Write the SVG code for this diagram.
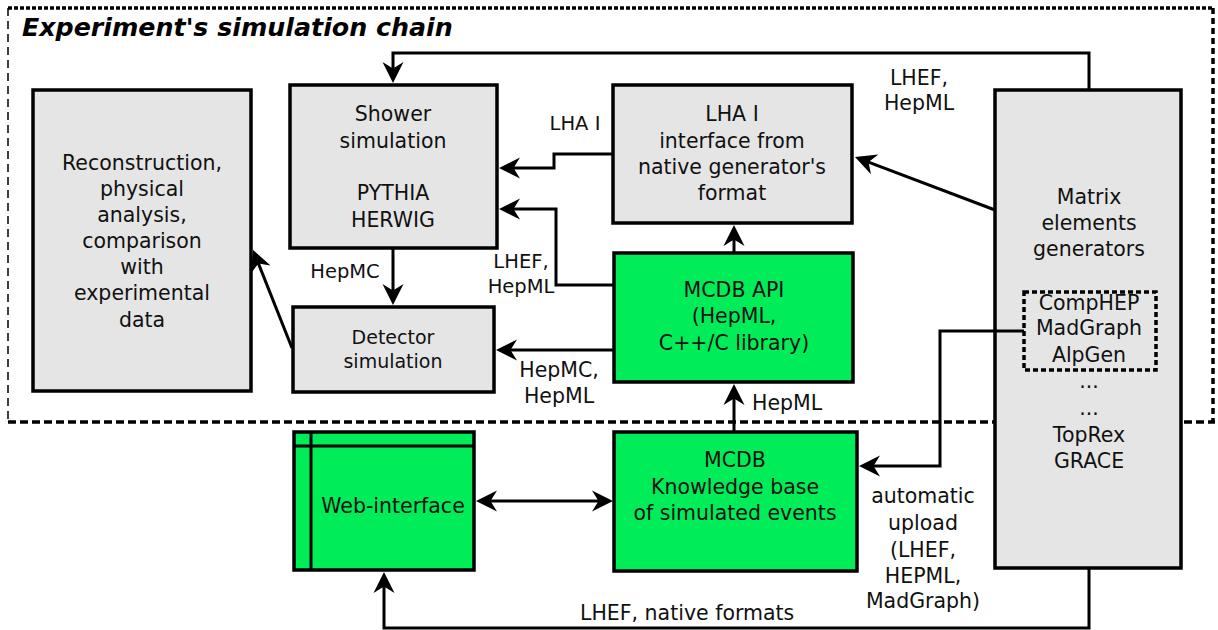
<svg xmlns="http://www.w3.org/2000/svg" width="1218" height="630" viewBox="0 0 1218 630">
<style>
.box{stroke:#000;stroke-width:3.5}
.gray{fill:#e5e5e5}
.green{fill:#00ec58}
.t{font-family:"DejaVu Sans",sans-serif;font-size:20.5px;fill:#111;text-anchor:middle}
.s{font-size:19px}
.lbl{font-family:"DejaVu Sans",sans-serif;font-size:19.5px;fill:#111;text-anchor:middle}
.big{font-size:20.5px}
.st{text-anchor:start}
.c{fill:none;stroke:#000;stroke-width:3}
</style>
<defs>
<marker id="ah" viewBox="-14 -12 24 24" markerWidth="24" markerHeight="24" refX="0" refY="0" orient="auto-start-reverse" markerUnits="userSpaceOnUse">
<path d="M8,0 L-13,-10.5 L-6.5,0 L-13,10.5 Z" fill="#000"/>
</marker>
</defs>
<rect width="1218" height="630" fill="#fff"/>
<g id="frame">
<path d="M8,8 H1213" fill="none" stroke="#000" stroke-width="3.5" stroke-dasharray="4 2"/>
<path d="M1213,8 V422" fill="none" stroke="#000" stroke-width="3.5" stroke-dasharray="6 4"/>
<path d="M8,422 H1215" fill="none" stroke="#000" stroke-width="3.5" stroke-dasharray="8 4"/>
<path d="M8,8 V422" fill="none" stroke="#000" stroke-width="1.5" stroke-dasharray="8 5"/>
<text x="22" y="36" font-family="DejaVu Sans, sans-serif" font-size="25.3" font-weight="bold" font-style="italic" fill="#000">Experiment's simulation chain</text>
</g>
<g id="reconstruction">
<rect class="box gray" x="33" y="90" width="218" height="301"/>
<text class="t" x="142" y="170">Reconstruction,</text>
<text class="t" x="142" y="196">physical</text>
<text class="t" x="142" y="222">analysis,</text>
<text class="t" x="142" y="248">comparison</text>
<text class="t" x="142" y="274">with</text>
<text class="t" x="142" y="300">experimental</text>
<text class="t" x="142" y="327">data</text>
</g>
<g id="shower">
<rect class="box gray" x="290" y="85" width="207" height="163"/>
<text class="t" x="393" y="121">Shower</text>
<text class="t" x="393" y="148">simulation</text>
<text class="t" x="393" y="200">PYTHIA</text>
<text class="t" x="393" y="227">HERWIG</text>
</g>
<g id="detector">
<rect class="box gray" x="293" y="307" width="201" height="85"/>
<text class="t s" x="393" y="344">Detector</text>
<text class="t s" x="393" y="368">simulation</text>
</g>
<g id="lha">
<rect class="box gray" x="613" y="85" width="239" height="138"/>
<text class="t" x="732" y="121">LHA I</text>
<text class="t" x="732" y="148">interface from</text>
<text class="t" x="732" y="174">native generator's</text>
<text class="t" x="732" y="200">format</text>
</g>
<g id="mcdb-api">
<rect class="box green" x="614" y="253" width="239" height="129"/>
<text class="t" x="734" y="297">MCDB API</text>
<text class="t" x="734" y="323">(HepML,</text>
<text class="t" x="734" y="350">C++/C library)</text>
</g>
<g id="mcdb-kb">
<rect class="box green" x="614" y="432" width="243" height="139"/>
<text class="t" x="735" y="467">MCDB</text>
<text class="t" x="735" y="494">Knowledge base</text>
<text class="t" x="735" y="520">of simulated events</text>
</g>
<g id="web">
<rect class="box green" x="294" y="432" width="180" height="138"/>
<path d="M311,432 V570 M294,446 H474" stroke="#000" stroke-width="3" fill="none"/>
<text class="t" x="393" y="513">Web-interface</text>
</g>
<g id="matrix">
<rect class="box gray" x="995" y="90" width="186" height="478"/>
<text class="t" x="1089" y="204">Matrix</text>
<text class="t" x="1089" y="230">elements</text>
<text class="t" x="1089" y="256">generators</text>
<rect x="1024" y="292" width="132" height="78" fill="none" stroke="#000" stroke-width="3.5" stroke-dasharray="5 3"/>
<text class="t" x="1089" y="310">CompHEP</text>
<text class="t" x="1089" y="335">MadGraph</text>
<text class="t" x="1089" y="362">AlpGen</text>
<text class="t" x="1089" y="388">...</text>
<text class="t" x="1089" y="415">...</text>
<text class="t" x="1089" y="442">TopRex</text>
<text class="t" x="1089" y="468">GRACE</text>
</g>
<g id="connectors">
<path class="c" d="M1089,90 V53 H393 V75" marker-end="url(#ah)"/>
<path class="c" d="M613,154 H554 V168 H507" marker-end="url(#ah)"/>
<path class="c" d="M614,285 H556 V209 H507" marker-end="url(#ah)"/>
<path class="c" d="M393,248 V297" marker-end="url(#ah)"/>
<path class="c" d="M614,350 H504" marker-end="url(#ah)"/>
<path class="c" d="M292,348 L256,257.4" marker-end="url(#ah)"/>
<path class="c" d="M734,253 V233" marker-end="url(#ah)"/>
<path class="c" d="M734,432 V392" marker-end="url(#ah)"/>
<path class="c" d="M995,210 L862.5,159.8" marker-end="url(#ah)"/>
<path class="c" d="M1024,331 H940 V466 H867" marker-end="url(#ah)"/>
<path class="c" d="M484,501 H605" marker-start="url(#ah)" marker-end="url(#ah)"/>
<path class="c" d="M1089,568 V628 H384 V580" marker-end="url(#ah)"/>
<text class="lbl" x="575" y="130">LHA I</text>
<text class="lbl" x="521" y="268">LHEF,</text>
<text class="lbl" x="521" y="293">HepML</text>
<text class="lbl" x="345" y="278">HepMC</text>
<text class="lbl big" x="559" y="377">HepMC,</text>
<text class="lbl big" x="559" y="403">HepML</text>
<text class="lbl big st" x="752" y="410">HepML</text>
<text class="lbl big" x="919" y="85">LHEF,</text>
<text class="lbl big" x="919" y="110">HepML</text>
<text class="lbl big" x="923" y="503">automatic</text>
<text class="lbl big" x="923" y="530">upload</text>
<text class="lbl big" x="923" y="557">(LHEF,</text>
<text class="lbl big" x="923" y="583">HEPML,</text>
<text class="lbl big" x="923" y="608">MadGraph)</text>
<text class="lbl big st" x="580" y="620">LHEF, native formats</text>
</g>
</svg>
